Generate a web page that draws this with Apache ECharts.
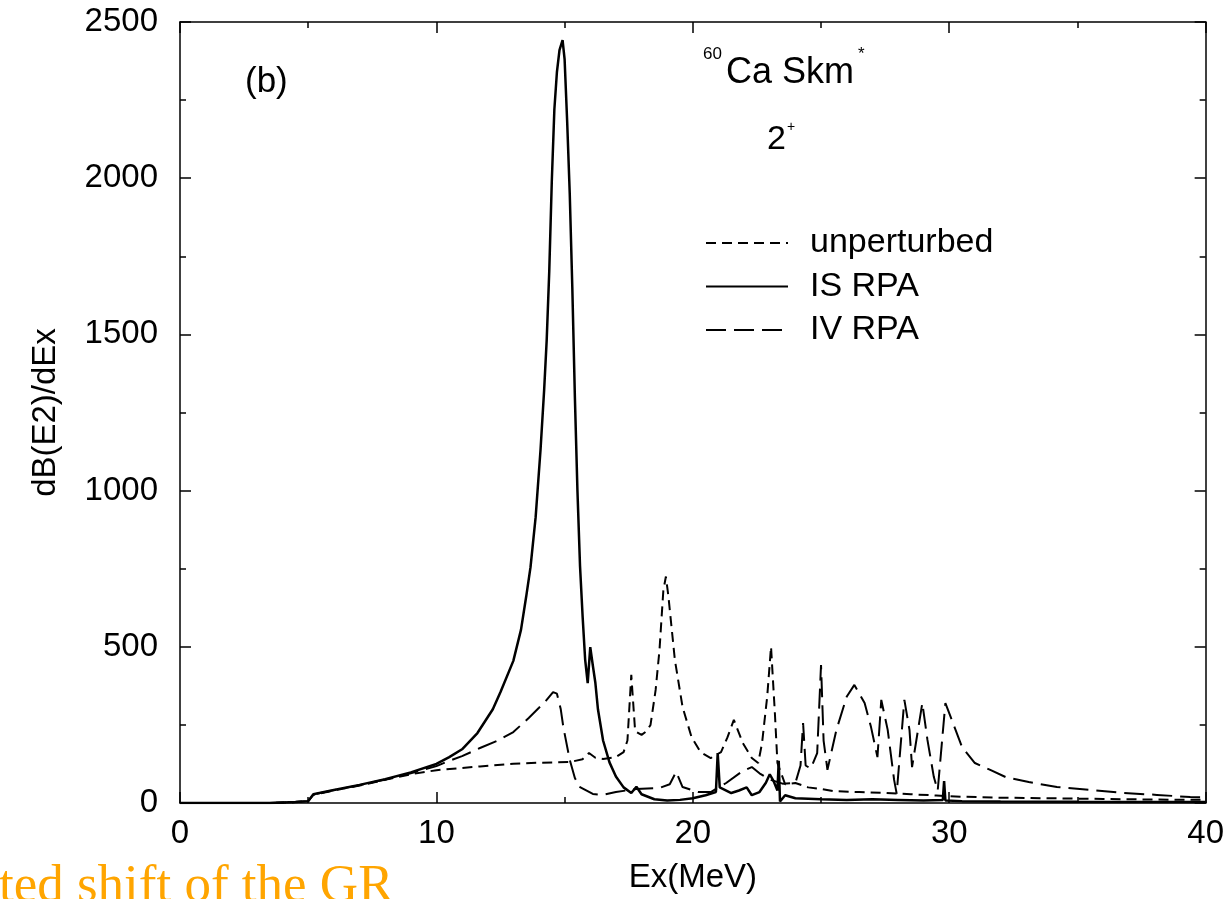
<!DOCTYPE html>
<html>
<head>
<meta charset="utf-8">
<script src="https://cdn.jsdelivr.net/npm/echarts@6/dist/echarts.min.js"></script>
<style>html,body{margin:0;padding:0;background:#fff}#c{width:1227px;height:899px}</style>
</head>
<body>
<div id="c"></div>
<script>
// ---- data (Ex in MeV, dB(E2)/dEx) ----
const xTicks = [0, 10, 20, 30, 40];
const yTicks = [0, 500, 1000, 1500, 2000, 2500];

const unperturbed = [[0,0],[3.5,0],[4.5,3],[5,6],[5.2,26],[6,40],[7,56],[8,74],[9,92],[10,105],[11,112],[11.7,117],[13,126],[14,129],[15.2,131],[15.7,140],[15.95,160],[16.2,145],[16.5,141],[17,147],[17.3,163],[17.45,200],[17.6,410],[17.75,230],[18.0,218],[18.2,230],[18.35,250],[18.55,362],[18.7,490],[18.85,680],[18.95,725],[19.05,660],[19.3,458],[19.6,307],[19.95,211],[20.3,163],[20.7,144],[21.1,163],[21.35,210],[21.6,266],[21.95,192],[22.3,144],[22.55,128],[22.7,192],[22.9,340],[23.05,500],[23.2,288],[23.3,128],[23.6,60],[24.0,64],[24.5,50],[25,45],[25.5,38],[26.5,35],[27.5,32],[28.5,28],[29.5,24],[30.5,20],[32,17],[34,15],[36,13],[38,11],[40,10]];

const isRPA = [[0,0],[3.5,0],[4.5,3],[5.0,6],[5.2,28],[6,42],[7,58],[8,76],[9,98],[10,125],[10.5,147],[11,172],[11.6,224],[12.2,300],[12.5,355],[13,455],[13.3,555],[13.5,660],[13.67,755],[13.87,915],[14.06,1130],[14.2,1320],[14.3,1480],[14.4,1700],[14.5,1990],[14.6,2220],[14.7,2340],[14.8,2410],[14.92,2442],[15.0,2380],[15.1,2180],[15.2,1950],[15.3,1650],[15.4,1300],[15.5,1000],[15.6,760],[15.7,600],[15.8,460],[15.9,384],[16.0,499],[16.1,440],[16.2,384],[16.3,300],[16.5,200],[16.75,130],[17,85],[17.3,50],[17.6,32],[17.8,52],[18,28],[18.5,12],[19,8],[19.5,10],[20,15],[20.5,25],[20.9,35],[20.97,160],[21.05,50],[21.5,32],[21.8,40],[22.1,50],[22.3,25],[22.6,35],[22.85,65],[23.0,92],[23.15,70],[23.3,40],[23.35,135],[23.4,5],[23.6,25],[24,15],[25,12],[26,10],[27,12],[28,10],[29,8],[29.75,10],[29.8,70],[29.85,8],[30.5,6],[32,5],[35,4],[40,3]];

const ivRPA = [[0,0],[3.5,0],[4.5,3],[5,6],[5.2,27],[6,41],[7,57],[8,75],[9,95],[10,118],[10.5,135],[11,150],[11.7,176],[12.4,200],[13,227],[13.6,272],[14.0,305],[14.3,330],[14.55,355],[14.7,350],[14.85,300],[14.95,243],[15.2,138],[15.4,80],[15.6,51],[16.1,29],[16.5,26],[17,35],[17.8,45],[18.7,48],[19.1,60],[19.35,100],[19.6,51],[20.2,35],[20.7,35],[21.3,64],[21.9,100],[22.3,115],[22.6,95],[23.0,75],[23.5,62],[24.0,64],[24.2,120],[24.3,256],[24.4,120],[24.6,110],[24.85,160],[25.0,442],[25.1,200],[25.25,106],[25.6,234],[26.0,340],[26.3,378],[26.7,320],[26.95,243],[27.2,147],[27.35,330],[27.6,234],[27.85,74],[27.95,30],[28.25,330],[28.45,234],[28.55,115],[28.95,320],[29.15,202],[29.4,83],[29.55,40],[29.85,320],[30.1,266],[30.5,179],[31.0,128],[31.6,106],[32.2,83],[33.1,67],[34.2,51],[35.5,42],[36.8,32],[38.1,26],[39.4,19],[40,18]];

const F = 'Liberation Sans, Arial, Helvetica, sans-serif';
const chart = echarts.init(document.getElementById('c'), null, {renderer: 'canvas'});

function axisCommon(show, margin) {
  return {
    axisLine: {show: true, onZero: false, lineStyle: {color: '#000', width: 1.5}},
    axisTick: {show: true, inside: true, length: 11, lineStyle: {color: '#000', width: 1.5}},
    minorTick: {show: true, splitNumber: 2, length: 6, lineStyle: {color: '#000', width: 1.5}},
    splitLine: {show: false},
    axisLabel: {show: show, color: '#000', fontSize: 33, fontFamily: F, margin: margin || 8,
      formatter: function (v) { return String(v); }}
  };
}

const xMin = xTicks[0], xMax = xTicks[xTicks.length - 1];
const yMin = yTicks[0], yMax = yTicks[yTicks.length - 1];
const xInt = xTicks[1] - xTicks[0], yInt = yTicks[1] - yTicks[0];

const option = {
  animation: false,
  backgroundColor: '#fff',
  grid: {left: 180, right: 21, top: 22, bottom: 96, containLabel: false},
  xAxis: [
    Object.assign(axisCommon(true, 14), {type: 'value', position: 'bottom', min: xMin, max: xMax, interval: xInt,
      name: 'Ex(MeV)', nameLocation: 'middle', nameGap: 58,
      nameTextStyle: {color: '#000', fontSize: 33, fontFamily: F}}),
    Object.assign(axisCommon(false), {type: 'value', position: 'top', min: xMin, max: xMax, interval: xInt})
  ],
  yAxis: [
    Object.assign(axisCommon(true, 22), {type: 'value', position: 'left', min: yMin, max: yMax, interval: yInt,
      name: 'dB(E2)/dEx', nameLocation: 'middle', nameGap: 118, nameRotate: 90,
      nameTextStyle: {color: '#000', fontSize: 33, fontFamily: F}}),
    Object.assign(axisCommon(false), {type: 'value', position: 'right', min: yMin, max: yMax, interval: yInt})
  ],
  legend: {
    show: true, orient: 'vertical', left: 705, top: 226, padding: 0,
    itemWidth: 82, itemHeight: 14, itemGap: 9.5,
    itemStyle: {opacity: 0},
    textStyle: {color: '#000', fontSize: 34, fontFamily: F, lineHeight: 34, padding: [0, 0, 0, 17]},
    data: ['unperturbed', 'IS RPA', 'IV RPA']
  },
  series: [
    {name: 'unperturbed', type: 'line', data: unperturbed, symbol: 'none', smooth: false,
      lineStyle: {color: '#000', width: 2, type: [10, 6]}, itemStyle: {color: '#000'}},
    {name: 'IS RPA', type: 'line', data: isRPA, symbol: 'none', smooth: false,
      lineStyle: {color: '#000', width: 2.5, type: 'solid'}, itemStyle: {color: '#000'}},
    {name: 'IV RPA', type: 'line', data: ivRPA, symbol: 'none', smooth: false,
      lineStyle: {color: '#000', width: 2, type: [20, 8]}, itemStyle: {color: '#000'}}
  ],
  graphic: [
    {type: 'text', left: 245, top: 65, style: {text: '(b)', fontSize: 35, fontFamily: F, fill: '#000'}},
    {type: 'text', left: 703, top: 46, style: {text: '60', fontSize: 17, fontFamily: F, fill: '#000'}},
    {type: 'text', left: 726, top: 55, style: {text: 'Ca Skm', fontSize: 36, fontFamily: F, fill: '#000'}},
    {type: 'text', left: 858, top: 46, style: {text: '*', fontSize: 17, fontFamily: F, fill: '#000'}},
    {type: 'text', left: 767, top: 123, style: {text: '2', fontSize: 34, fontFamily: F, fill: '#000'}},
    {type: 'text', left: 787, top: 120, style: {text: '+', fontSize: 14, fontFamily: F, fill: '#000'}},
    {type: 'text', left: -1, top: 861, style: {text: 'ted shift of the GR', fontSize: 53, fontFamily: 'Liberation Serif, Times New Roman, serif', fill: '#FFA500'}}
  ]
};
chart.setOption(option);
</script>
</body>
</html>
